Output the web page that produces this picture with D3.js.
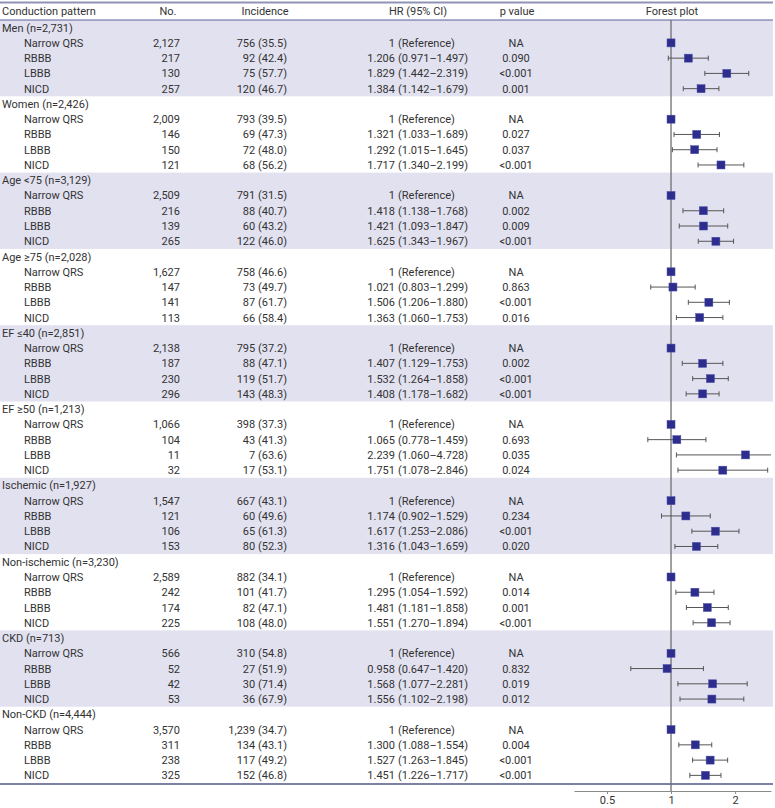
<!DOCTYPE html>
<html>
<head>
<meta charset="utf-8">
<script src="https://cdn.jsdelivr.net/npm/d3@7"></script>
<style>
  body { margin: 0; background: #fff; }
  svg text { font-family: Roboto, "Noto Sans", sans-serif; font-size: 11px; fill: #333; }
</style>
</head>
<body>
<div id="chart"></div>
<script>
const groups = ["Men (n=2,731)", "Women (n=2,426)", "Age <75 (n=3,129)", "Age \u226575 (n=2,028)",
  "EF \u226440 (n=2,851)", "EF \u226550 (n=1,213)", "Ischemic (n=1,927)", "Non-ischemic (n=3,230)",
  "CKD (n=713)", "Non-CKD (n=4,444)"];
const patterns = ["Narrow QRS", "RBBB", "LBBB", "NICD"];

const counts = [
  ["2,127", "217", "130", "257"],
  ["2,009", "146", "150", "121"],
  ["2,509", "216", "139", "265"],
  ["1,627", "147", "141", "113"],
  ["2,138", "187", "230", "296"],
  ["1,066", "104", "11", "32"],
  ["1,547", "121", "106", "153"],
  ["2,589", "242", "174", "225"],
  ["566", "52", "42", "53"],
  ["3,570", "311", "238", "325"]
];
const incidence = [
  ["756 (35.5)", "92 (42.4)", "75 (57.7)", "120 (46.7)"],
  ["793 (39.5)", "69 (47.3)", "72 (48.0)", "68 (56.2)"],
  ["791 (31.5)", "88 (40.7)", "60 (43.2)", "122 (46.0)"],
  ["758 (46.6)", "73 (49.7)", "87 (61.7)", "66 (58.4)"],
  ["795 (37.2)", "88 (47.1)", "119 (51.7)", "143 (48.3)"],
  ["398 (37.3)", "43 (41.3)", "7 (63.6)", "17 (53.1)"],
  ["667 (43.1)", "60 (49.6)", "65 (61.3)", "80 (52.3)"],
  ["882 (34.1)", "101 (41.7)", "82 (47.1)", "108 (48.0)"],
  ["310 (54.8)", "27 (51.9)", "30 (71.4)", "36 (67.9)"],
  ["1,239 (34.7)", "134 (43.1)", "117 (49.2)", "152 (46.8)"]
];
// HR, lower and upper CI for RBBB, LBBB, NICD (Narrow QRS is reference = 1)
const hr = [
  [1.206, 1.829, 1.384], [1.321, 1.292, 1.717], [1.418, 1.421, 1.625], [1.021, 1.506, 1.363],
  [1.407, 1.532, 1.408], [1.065, 2.239, 1.751], [1.174, 1.617, 1.316], [1.295, 1.481, 1.551],
  [0.958, 1.568, 1.556], [1.300, 1.527, 1.451]
];
const lo = [
  [0.971, 1.442, 1.142], [1.033, 1.015, 1.340], [1.138, 1.093, 1.343], [0.803, 1.206, 1.060],
  [1.129, 1.264, 1.178], [0.778, 1.060, 1.078], [0.902, 1.253, 1.043], [1.054, 1.181, 1.270],
  [0.647, 1.077, 1.102], [1.088, 1.263, 1.226]
];
const hi = [
  [1.497, 2.319, 1.679], [1.689, 1.645, 2.199], [1.768, 1.847, 1.967], [1.299, 1.880, 1.753],
  [1.753, 1.858, 1.682], [1.459, 4.728, 2.846], [1.529, 2.086, 1.659], [1.592, 1.858, 1.894],
  [1.420, 2.281, 2.198], [1.554, 1.845, 1.717]
];
const pvals = [
  ["0.090", "<0.001", "0.001"], ["0.027", "0.037", "<0.001"], ["0.002", "0.009", "<0.001"],
  ["0.863", "<0.001", "0.016"], ["0.002", "<0.001", "<0.001"], ["0.693", "0.035", "0.024"],
  ["0.234", "<0.001", "0.020"], ["0.014", "0.001", "<0.001"], ["0.832", "0.019", "0.012"],
  ["0.004", "<0.001", "<0.001"]
];
const xTicks = [0.5, 1, 2];

const W = 775, H = 808;
const topY = 20, rowH = 15.26, nRows = groups.length * 5;
const tableRight = 773;

const svg = d3.select("#chart").append("svg")
  .attr("width", W).attr("height", H);

const y = d3.scaleLinear().domain([0, nRows]).range([topY, topY + nRows * rowH]);
const x = d3.scaleLog().domain([0.35, 2.95]).range([574, 771]);

// Build rows
let rows = [];
groups.forEach((g, gi) => {
  rows.push({ idx: gi * 5, group: gi, label: g, header: true });
  patterns.forEach((p, pi) => {
    const r = { idx: gi * 5 + pi + 1, group: gi, label: p, header: false,
      no: counts[gi][pi], inc: incidence[gi][pi] };
    if (pi === 0) {
      r.hrText = "1"; r.ciText = "(Reference)"; r.p = "NA"; r.hr = 1;
    } else {
      const k = pi - 1;
      r.hr = hr[gi][k]; r.lo = lo[gi][k]; r.hi = hi[gi][k];
      r.hrText = d3.format(".3f")(r.hr);
      r.ciText = `(${d3.format(".3f")(r.lo)}\u2013${d3.format(".3f")(r.hi)})`;
      r.p = pvals[gi][k];
    }
    rows.push(r);
  });
});

// Shaded bands for alternating groups
svg.append("g").selectAll("rect")
  .data(groups.map((g, i) => i).filter(i => i % 2 === 0))
  .join("rect")
  .attr("x", 0).attr("width", tableRight)
  .attr("y", i => y(i * 5)).attr("height", i => y(i * 5 + 5) - y(i * 5))
  .attr("fill", "#e2e1f0");

// Table rules
svg.append("line").attr("x1", 0).attr("x2", tableRight).attr("y1", 2.5).attr("y2", 2.5)
  .attr("stroke", "#8f93b6").attr("stroke-width", 2);
svg.append("line").attr("x1", 0).attr("x2", tableRight).attr("y1", topY).attr("y2", topY)
  .attr("stroke", "#5d6199").attr("stroke-width", 1);
svg.append("line").attr("x1", 0).attr("x2", tableRight).attr("y1", y(nRows) + 1).attr("y2", y(nRows) + 1)
  .attr("stroke", "#7d81a8").attr("stroke-width", 2);

// Header
const headers = [
  { t: "Conduction pattern", x: 2, a: "start" },
  { t: "No.", x: 168, a: "middle" },
  { t: "Incidence", x: 265, a: "middle" },
  { t: "HR (95% CI)", x: 418, a: "middle" },
  { t: "p value", x: 517, a: "middle" },
  { t: "Forest plot", x: 672, a: "middle" }
];
svg.append("g").selectAll("text").data(headers).join("text")
  .attr("x", d => d.x).attr("y", 15).attr("text-anchor", d => d.a).text(d => d.t);

const rowY = d => y(d.idx + 0.5) + 4;

const body = svg.append("g");
body.selectAll(".lab").data(rows).join("text")
  .attr("x", d => d.header ? 2 : 24).attr("y", rowY).text(d => d.label);

const sub = rows.filter(d => !d.header);
body.selectAll(".no").data(sub).join("text")
  .attr("x", 180).attr("y", rowY).attr("text-anchor", "end").text(d => d.no);
body.selectAll(".inc").data(sub).join("text")
  .attr("x", 287).attr("y", rowY).attr("text-anchor", "end").text(d => d.inc);
body.selectAll(".hr").data(sub).join("text")
  .attr("x", 395).attr("y", rowY).attr("text-anchor", "end").text(d => d.hrText);
body.selectAll(".ci").data(sub).join("text")
  .attr("x", 398).attr("y", rowY).text(d => d.ciText);
body.selectAll(".p").data(sub).join("text")
  .attr("x", 516).attr("y", rowY).attr("text-anchor", "middle").text(d => d.p);

// Forest plot
const axisY = y(nRows) + 8;
const fp = svg.append("g");
fp.append("line")
  .attr("x1", x(1)).attr("x2", x(1)).attr("y1", topY).attr("y2", axisY)
  .attr("stroke", "#6f6f6f").attr("stroke-width", 1.3);

const ciRows = sub.filter(d => d.lo !== undefined);
const [dMin, dMax] = x.domain();
const cy = d => y(d.idx + 0.5);
fp.selectAll(".ci-line").data(ciRows).join("line")
  .attr("x1", d => x(Math.max(d.lo, dMin))).attr("x2", d => x(Math.min(d.hi, dMax)))
  .attr("y1", cy).attr("y2", cy)
  .attr("stroke", "#555").attr("stroke-width", 1);
fp.selectAll(".cap-lo").data(ciRows).join("line")
  .attr("x1", d => x(d.lo)).attr("x2", d => x(d.lo))
  .attr("y1", d => cy(d) - 2.5).attr("y2", d => cy(d) + 2.5)
  .attr("stroke", "#555").attr("stroke-width", 1);
fp.selectAll(".cap-hi").data(ciRows.filter(d => d.hi <= dMax)).join("line")
  .attr("x1", d => x(d.hi)).attr("x2", d => x(d.hi))
  .attr("y1", d => cy(d) - 2.5).attr("y2", d => cy(d) + 2.5)
  .attr("stroke", "#555").attr("stroke-width", 1);
fp.selectAll(".sq").data(sub).join("rect")
  .attr("x", d => x(d.hr) - 4).attr("y", d => cy(d) - 4)
  .attr("width", 8).attr("height", 8)
  .attr("fill", "#2c2d8c").attr("stroke", "#4a4ca8").attr("stroke-width", 0.5);

// X axis
const ax = svg.append("g")
  .attr("transform", `translate(0, ${axisY})`)
  .call(d3.axisBottom(x).tickValues(xTicks).tickFormat(d3.format(""))
    .tickSize(3).tickPadding(2).tickSizeOuter(0));
ax.select(".domain").attr("stroke", "#8a8a8a");
ax.selectAll(".tick line").attr("stroke", "#8a8a8a");
ax.selectAll(".tick text").attr("font-size", 11).attr("fill", "#333")
  .attr("font-family", "Roboto, 'Noto Sans', sans-serif");
</script>
</body>
</html>
